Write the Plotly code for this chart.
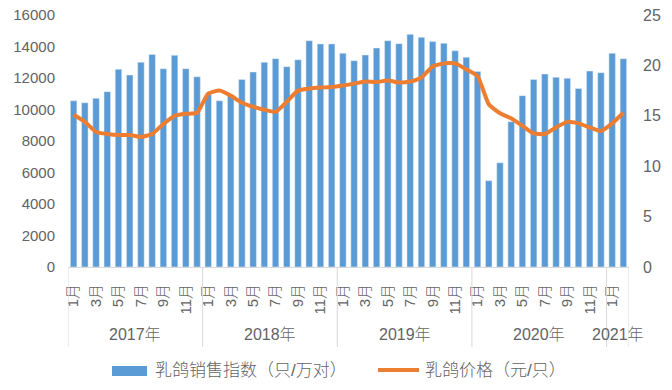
import plotly.graph_objects as go

years = ["2017年"] * 12 + ["2018年"] * 12 + ["2019年"] * 12 + ["2020年"] * 12 + ["2021年"] * 2
months = [f"{m}月" for m in range(1, 13)] * 4 + ["1月", "2月"]

sales_index = [
    10550, 10430, 10710, 11130, 12550, 12190, 13000, 13500, 12590, 13440, 12590, 12080,
    10950, 10560, 10920, 11910, 12380, 13000, 13230, 12720, 13160, 14370, 14160, 14160,
    13570, 13100, 13460, 13900, 14370, 14180, 14770, 14580, 14310, 14200, 13730, 13310,
    12420, 5480, 6620, 9230, 10880, 11910, 12250, 12040, 11980, 11340, 12440, 12340,
    13570, 13230,
]
price = [
    15.1, 14.4, 13.4, 13.2, 13.1, 13.1, 12.9, 13.2, 14.2, 15.0, 15.2, 15.3,
    17.2, 17.5, 17.0, 16.3, 15.9, 15.6, 15.4, 16.4, 17.5, 17.7, 17.8, 17.85,
    18.0, 18.2, 18.4, 18.35, 18.5, 18.3, 18.4, 18.8, 19.9, 20.2, 20.2, 19.6,
    18.95, 16.15, 15.25, 14.75, 14.0, 13.25, 13.2, 13.85, 14.4, 14.25, 13.85, 13.5,
    14.25, 15.3,
]

name_bar = "乳鸽销售指数（只/万对）"
name_line = "乳鸽价格（元/只）"

BLUE = "#5B9BD5"
ORANGE = "#ED7D31"
TXT = "#636363"
AX = "#D9D9D9"
FONT = "Liberation Sans, Noto Sans CJK SC, sans-serif"

idx = list(range(len(months)))

fig = go.Figure()
fig.add_trace(go.Bar(x=idx, y=sales_index, name=name_bar, marker_color=BLUE,
                     showlegend=False, yaxis="y"))
fig.add_trace(go.Scatter(x=idx, y=price, name=name_line, mode="lines",
                         line=dict(color=ORANGE, width=4, shape="spline", smoothing=0.5),
                         showlegend=False, yaxis="y2"))

tickvals = [i for i, m in zip(idx, months) if int(m[:-1]) % 2 == 1]
ticktext = [months[i] for i in tickvals]

# plot area pixel geometry
L, R, T, B = 68, 629, 15, 267
W, H = 672, 390
pw, ph = R - L, B - T

def py(p):
    return (B - p) / ph

def px(p):
    return (p - L) / pw

shapes = []
annotations = []
# year group boundaries and labels
groups = []
start = 0
for i in range(1, len(years) + 1):
    if i == len(years) or years[i] != years[start]:
        groups.append((years[start], start, i - 1))
        start = i
bounds = [g[1] - 0.5 for g in groups] + [groups[-1][2] + 0.5]
for b in bounds:
    shapes.append(dict(type="line", xref="x", yref="paper", x0=b, x1=b,
                       y0=0, y1=py(347), line=dict(color=AX, width=1)))
for name, s, e in groups:
    annotations.append(dict(text=name, xref="x", yref="paper", x=(s + e) / 2, y=py(334),
                            showarrow=False,
                            font=dict(size=16, color=TXT, family=FONT, weight=300),
                            xanchor="center", yanchor="middle"))

# manual legend
shapes.append(dict(type="rect", xref="paper", yref="paper",
                   x0=px(112), x1=px(147), y0=py(376), y1=py(366),
                   fillcolor=BLUE, line=dict(width=0)))
annotations.append(dict(text=name_bar, xref="paper", yref="paper", x=px(153), y=py(371),
                        showarrow=False, xanchor="left", yanchor="middle",
                        font=dict(size=17, color=TXT, family=FONT, weight=300)))
shapes.append(dict(type="line", xref="paper", yref="paper",
                   x0=px(378), x1=px(419), y0=py(370), y1=py(370),
                   line=dict(color=ORANGE, width=4)))
annotations.append(dict(text=name_line, xref="paper", yref="paper", x=px(423), y=py(371),
                        showarrow=False, xanchor="left", yanchor="middle",
                        font=dict(size=17, color=TXT, family=FONT, weight=300)))

fig.update_layout(
    width=W, height=H,
    margin=dict(l=L, r=W - R, t=T, b=H - B, autoexpand=False),
    paper_bgcolor="white", plot_bgcolor="white",
    bargap=0.42,
    font=dict(family=FONT, color=TXT, size=15),
    xaxis=dict(range=[-0.5, len(months) - 0.5], tickvals=tickvals, ticktext=ticktext,
               tickangle=-90, showgrid=False, zeroline=False, showline=True,
               linecolor=AX, linewidth=1, ticks="", automargin=False,
               ticklabelstandoff=10, tickfont=dict(size=15, color=TXT, weight=300)),
    yaxis=dict(range=[0, 16000], dtick=2000, tickformat="d", showgrid=False,
               zeroline=False, showline=False, ticks="", ticklabelstandoff=12,
               automargin=False, tickfont=dict(size=15, color=TXT)),
    yaxis2=dict(range=[0, 25], dtick=5, overlaying="y", side="right", showgrid=False,
                zeroline=False, showline=False, ticks="", ticklabelstandoff=13,
                automargin=False, tickfont=dict(size=16, color=TXT)),
    shapes=shapes,
    annotations=annotations,
)

fig.write_html("out.html", config={"displayModeBar": False},
               post_script="document.body.style.margin='0';document.body.style.overflow='hidden';")
